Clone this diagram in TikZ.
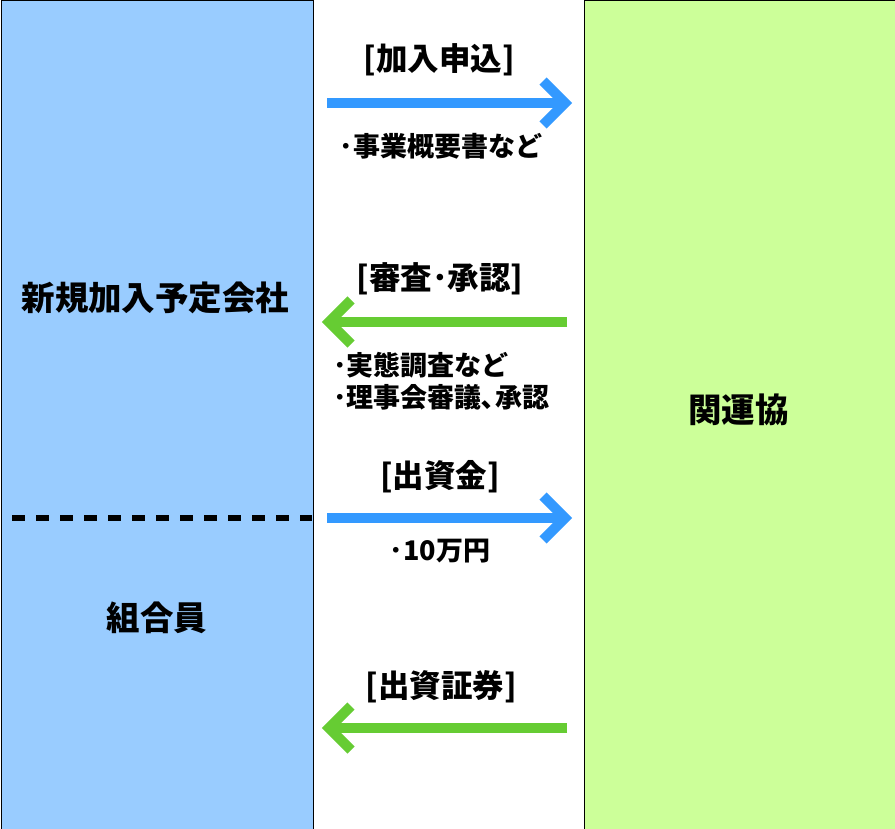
\documentclass[tikz,border=0pt]{standalone}
\usepackage{fontspec}
\setmainfont{Noto Sans CJK JP}
\definecolor{boxblue}{HTML}{99CCFF}
\definecolor{boxgreen}{HTML}{CCFF99}
\definecolor{arrblue}{HTML}{3399FF}
\definecolor{arrgreen}{HTML}{66CC33}
\begin{document}
\begin{tikzpicture}[x=1pt,y=-1pt,
  panel/.style={draw=black,line width=1pt,inner sep=0pt,anchor=north west},
  shaft/.style={line width=10pt},
  chev/.style={line width=10pt,line join=miter,miter limit=10},
  divider/.style={line width=5.5pt,black,dash pattern=on 12.5pt off 11.5pt},
  big/.style={font=\fontsize{33.5}{38}\selectfont\bfseries,inner sep=0pt},
  head/.style={font=\fontsize{31.5}{36}\selectfont\bfseries,inner sep=0pt},
  sub/.style={font=\fontsize{27}{31}\selectfont\bfseries,inner sep=0pt},
]
\useasboundingbox (0,0) rectangle (895,829);
\fill[white] (0,0) rectangle (895,829);
% panels
\node[panel,fill=boxblue,minimum width=312pt,minimum height=828pt] (left) at (0.5,0.5) {};
\node[panel,fill=boxgreen,minimum width=312pt,minimum height=828pt] (right) at (583.5,0.5) {};
\node[big] (company) at (155.5,298) {新規加入予定会社};
\node[big] (member) at (157,618) {組合員};
\node[big] (assoc) at (738.5,410) {関運協};
% divider
\coordinate (dA) at (12,518);
\coordinate (dB) at (312,518);
\draw[divider] (dA) -- (dB);
% arrow 1
\coordinate (a1s) at (327,103);
\coordinate (a1t) at (565,103);
\draw[shaft,arrblue] (a1s) -- (a1t);
\draw[chev,arrblue] ([shift={(-22,-22)}]a1t) -- (a1t) -- ([shift={(-22,22)}]a1t);
\node[head] (l1) at (439,60) {[加入申込]};
\node[sub] (s1) at (441,146) {･事業概要書など};
% arrow 2
\coordinate (a2s) at (567,322);
\coordinate (a2t) at (329,322);
\draw[shaft,arrgreen] (a2s) -- (a2t);
\draw[chev,arrgreen] ([shift={(22,-22)}]a2t) -- (a2t) -- ([shift={(22,22)}]a2t);
\node[head] (l2) at (440,279) {[審査･承認]};
\node[sub,anchor=west] (s2a) at (333,365) {･実態調査など};
\node[sub,anchor=west] (s2b) at (333,397) {･理事会審議､承認};
% arrow 3
\coordinate (a3s) at (327,518);
\coordinate (a3t) at (565,518);
\draw[shaft,arrblue] (a3s) -- (a3t);
\draw[chev,arrblue] ([shift={(-22,-22)}]a3t) -- (a3t) -- ([shift={(-22,22)}]a3t);
\node[head] (l3) at (440,477) {[出資金]};
\node[sub] (s3) at (440,551) {･10万円};
% arrow 4
\coordinate (a4s) at (567,728);
\coordinate (a4t) at (329,728);
\draw[shaft,arrgreen] (a4s) -- (a4t);
\draw[chev,arrgreen] ([shift={(22,-22)}]a4t) -- (a4t) -- ([shift={(22,22)}]a4t);
\node[head] (l4) at (441,687) {[出資証券]};
\end{tikzpicture}
\end{document}
